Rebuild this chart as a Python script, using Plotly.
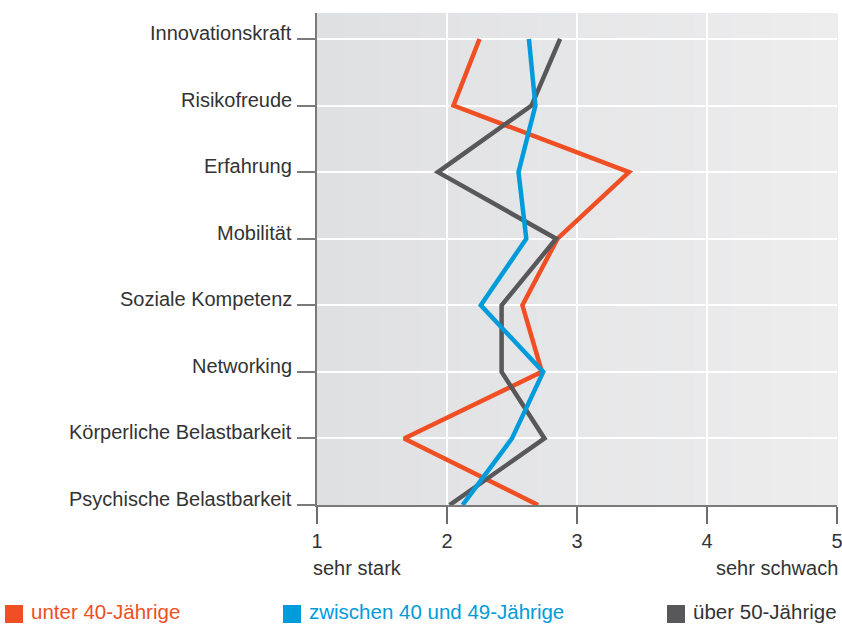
import plotly.graph_objects as go

# Kompetenzen (von oben nach unten)
categories = [
    "Innovationskraft",
    "Risikofreude",
    "Erfahrung",
    "Mobilität",
    "Soziale Kompetenz",
    "Networking",
    "Körperliche Belastbarkeit",
    "Psychische Belastbarkeit",
]

# Durchschnittliche Bewertung (1 = sehr stark, 5 = sehr schwach)
unter_40 = [2.25, 2.05, 3.40, 2.85, 2.58, 2.73, 1.67, 2.70]
zwischen_40_49 = [2.63, 2.68, 2.55, 2.61, 2.26, 2.74, 2.50, 2.12]
ueber_50 = [2.87, 2.65, 1.93, 2.84, 2.42, 2.42, 2.75, 2.02]

series_names = ["unter 40-Jährige", "zwischen 40 und 49-Jährige", "über 50-Jährige"]
series_colors = ["#f04e23", "#009bdb", "#58585a"]

x_ticks = [1, 2, 3, 4, 5]
x_low_label = "sehr stark"
x_high_label = "sehr schwach"

FONT = "Liberation Sans, Arial, sans-serif"
TEXT = "#333333"

# plot area geometry in pixels
L, W, T, H = 317, 520, 13, 492
FIG_W, FIG_H = 842, 624

fig = go.Figure()

# drawing order: orange first, then grey, blue on top
order = [0, 2, 1]
data = [unter_40, zwischen_40_49, ueber_50]
for i in order:
    fig.add_trace(go.Scatter(
        x=data[i], y=categories, mode="lines",
        line=dict(color=series_colors[i], width=4.5),
        name=series_names[i], showlegend=False,
        hoverinfo="x+y+name",
    ))

# soft horizontal gradient for the plot background
n_strips = 40
c0 = (223, 224, 226)
c1 = (237, 237, 238)
for k in range(n_strips):
    t = k / (n_strips - 1)
    col = tuple(round(a + (b - a) * t) for a, b in zip(c0, c1))
    fig.add_shape(
        type="rect", xref="x domain", yref="y domain",
        x0=k / n_strips, x1=(k + 1) / n_strips + 0.002, y0=0, y1=1,
        fillcolor="rgb(%d,%d,%d)" % col, line=dict(width=0), layer="below",
    )

# category labels, sitting just above their tick marks
for cat in categories:
    fig.add_annotation(x=0, y=cat, xref="paper", yref="y", text=cat,
                       showarrow=False, xanchor="right", yanchor="middle",
                       xshift=-23, yshift=6,
                       font=dict(family=FONT, size=20, color=TEXT))

# end labels of the scale
fig.add_annotation(x=1, y=(T + H - 568) / H, xref="x", yref="paper", text=x_low_label,
                   showarrow=False, xanchor="left", yanchor="middle", xshift=-6,
                   font=dict(family=FONT, size=20, color=TEXT))
fig.add_annotation(x=5, y=(T + H - 568) / H, xref="x", yref="paper", text=x_high_label,
                   showarrow=False, xanchor="right", yanchor="middle", xshift=3,
                   font=dict(family=FONT, size=20, color=TEXT))

# legend row: coloured square + coloured label
legend_x = [5, 283, 667]  # left edge of each square in pixels
for name, col, px in zip(series_names, series_colors, legend_x):
    fig.add_shape(type="rect", xref="paper", yref="paper",
                  x0=(px - L) / W, x1=(px + 18 - L) / W,
                  y0=(T + H - 623) / H, y1=(T + H - 605) / H,
                  fillcolor=col, line=dict(width=0))
    fig.add_annotation(x=(px + 24 - L) / W, y=(T + H - 611.5) / H, xref="paper", yref="paper",
                       text=name, showarrow=False, xanchor="left", yanchor="middle",
                       font=dict(family=FONT, size=20.5,
                                 color=col if col != "#58585a" else "#333333"))

fig.update_layout(
    width=FIG_W, height=FIG_H, autosize=False,
    margin=dict(l=L, r=FIG_W - L - W, t=T, b=FIG_H - T - H, pad=0, autoexpand=False),
    paper_bgcolor="white", plot_bgcolor="rgba(0,0,0,0)",
    font=dict(family=FONT, size=20, color=TEXT),
    showlegend=False,
)
fig.update_xaxes(
    range=[1, 5], tickvals=x_ticks, ticktext=[str(v) for v in x_ticks],
    showgrid=True, gridcolor="white", gridwidth=1.5,
    showline=True, linecolor="#7a7a7a", linewidth=2,
    ticks="outside", ticklen=17, tickcolor="#6d6d6d", tickwidth=1.5,
    tickfont=dict(family=FONT, size=20, color=TEXT), zeroline=False,
    ticklabeloverflow="allow", automargin=False, fixedrange=True,
)
fig.update_yaxes(
    type="category", categoryorder="array", categoryarray=categories,
    range=[7, -0.39], autorange=False, showticklabels=False,
    showgrid=True, gridcolor="white", gridwidth=1.5,
    showline=True, linecolor="#7a7a7a", linewidth=1.5,
    ticks="outside", ticklen=18, tickcolor="#7a7a7a", tickwidth=1.5,
    zeroline=False, automargin=False, fixedrange=True,
)

fig.write_html("out.html", config={"displayModeBar": False})
